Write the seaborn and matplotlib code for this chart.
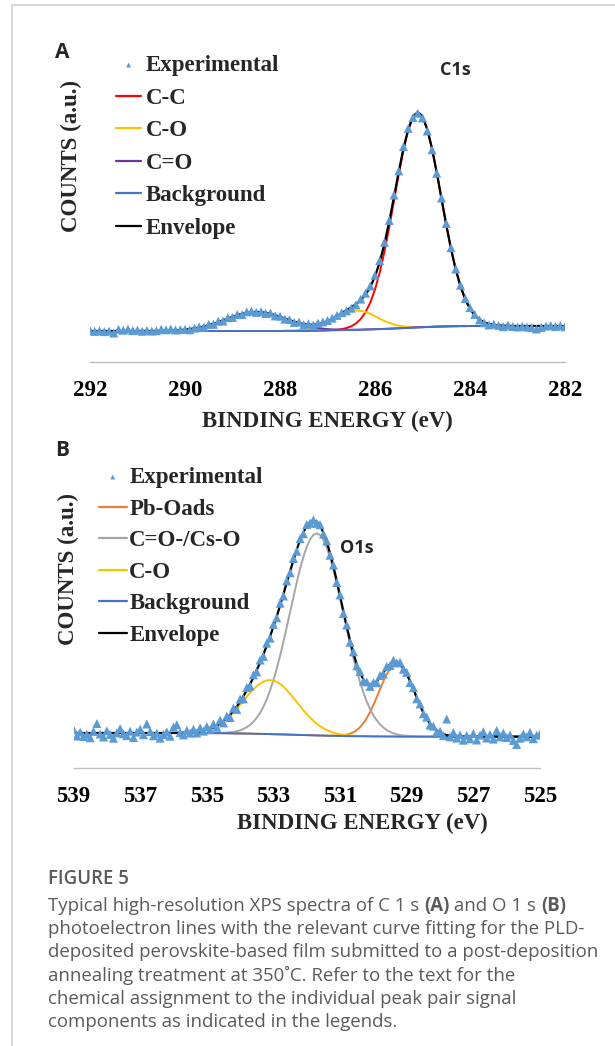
import numpy as np
import pandas as pd
import matplotlib
matplotlib.use("Agg")
import matplotlib.pyplot as plt
from matplotlib.lines import Line2D
import seaborn as sns

STEP = 0.1  # eV between channels

# ---------------- Panel A : C 1s, channels 292.0 -> 282.0 eV ----------------
a_start = 292.0
a_exp = [9.5, 8.6, 9.2, 8.4, 8.9, 7.0, 10.6, 9.8, 10.9, 9.4,
         9.9, 8.7, 9.6, 8.9, 9.3, 10.7, 10.2, 11.0, 10.0, 10.4,
         10.6, 10.2, 11.9, 13.1, 12.9, 15.6, 15.7, 18.8, 19.0, 22.3,
         22.6, 25.5, 25.4, 28.2, 28.9, 27.6, 28.3, 26.5, 26.9, 24.1,
         23.8, 20.9, 20.4, 17.6, 17.9, 15.3, 16.2, 14.8, 16.9, 18.1,
         19.5, 21.9, 24.6, 27.3, 29.1, 31.8, 35.2, 40.9, 46.8, 54.0,
         64.8, 79.5, 97.8, 119.6, 145.0, 169.1, 193.4, 211.6, 222.5, 226.8,
         222.1, 209.0, 190.2, 166.8, 142.0, 116.5, 92.3, 71.0, 54.8, 41.5,
         32.4, 25.6, 20.1, 17.2, 15.1, 15.9, 14.6, 13.3, 14.8, 13.5,
         13.0, 13.8, 12.9, 12.4, 11.0, 12.6, 13.9, 14.6, 13.4, 14.3,
         13.2]
a_bg = ([9.0] * 41 +
        [9.1, 9.1, 9.1, 9.2, 9.2, 9.3, 9.3, 9.4, 9.5, 9.6,
         9.7, 9.8, 9.9, 10.0, 10.1, 10.2, 10.3, 10.5, 10.6, 10.8,
         10.9, 11.1, 11.3, 11.5, 11.7, 11.9, 12.1, 12.4, 12.6, 12.8,
         13.0, 13.2, 13.4, 13.5, 13.6, 13.7, 13.8, 13.9, 13.9, 14.0] +
        [14.0] * 20)
# fitted components (height above background), first channel + values
a_cc_start = 287.1
a_cc = [0.0, 0.1, 0.2, 0.5, 1.0, 2.0, 3.6, 6.4, 10.7, 17.3,
        26.8, 39.8, 56.7, 77.5, 101.6, 127.8, 154.1, 178.3, 197.8, 210.6,
        215.0,
        210.6, 197.8, 178.3, 154.1, 127.8, 101.6, 77.5, 56.7, 39.8, 26.8,
        17.3, 10.7, 6.4, 3.6, 2.0, 1.0, 0.5, 0.2, 0.1, 0.0]
a_co_start = 287.8
a_co = [0.1, 0.3, 0.6, 1.0, 1.6, 2.6, 4.0, 5.8, 7.9, 10.4, 13.0, 15.5, 17.5, 18.8,
        19.3,
        18.8, 17.5, 15.5, 13.0, 10.4, 7.9, 5.8, 4.0, 2.6, 1.6, 1.0, 0.6, 0.3, 0.1]
a_cdo_start = 290.5
a_cdo = [0.2, 0.3, 0.4, 0.6, 0.9, 1.3, 1.9, 2.6, 3.5, 4.5,
         5.8, 7.3, 8.9, 10.6, 12.4, 14.1, 15.7, 17.1, 18.1, 18.8,
         19.0,
         18.8, 18.1, 17.1, 15.7, 14.1, 12.4, 10.6, 8.9, 7.3, 5.8,
         4.5, 3.5, 2.6, 1.9, 1.3, 0.9, 0.6, 0.4, 0.3, 0.2]
a_ticks = [292, 290, 288, 286, 284, 282]

# ---------------- Panel B : O 1s, channels 539.0 -> 525.0 eV ----------------
b_start = 539.0
b_exp = [15.5, 9.0, 12.8, 8.5, 10.9, 7.2, 13.6, 21.5, 11.0, 8.0,
         14.2, 10.6, 6.8, 12.1, 16.5, 11.2, 9.4, 13.8, 7.5, 12.9,
         15.8, 10.3, 21.0, 13.5, 9.2, 11.8, 6.9, 10.4, 13.1, 8.8,
         17.9, 20.3, 12.4, 10.1, 14.6, 11.9, 15.8, 12.0, 17.2, 13.9,
         18.5, 15.4, 21.0, 17.8, 24.9, 22.1, 28.9, 27.5, 36.8, 35.6,
         45.9, 46.2, 57.5, 58.8, 70.2, 73.1, 85.0, 88.6, 101.9, 106.9,
         120.6, 127.2, 141.8, 149.0, 164.1, 172.2, 186.5, 193.8, 206.3, 211.2,
         220.4, 221.8, 225.1, 221.6, 220.3, 210.9, 204.0, 189.8, 179.9, 162.5,
         150.1, 131.6, 120.0, 102.7, 93.2, 79.2, 73.4, 63.8, 63.1, 58.6,
         62.5, 62.3, 69.5, 71.1, 78.6, 79.5, 84.7, 82.1, 82.8, 75.8,
         72.6, 62.4, 57.3, 46.2, 41.0, 31.3, 27.9, 19.9, 18.8, 12.9,
         13.8, 9.4, 26.0, 8.1, 12.5, 6.9, 10.2, 4.8, 9.6, 6.2,
         11.5, 5.0, 9.9, 13.2, 7.0, 10.6, 5.9, 14.5, 8.1, 11.9,
         7.4, 10.0, 4.6, 0.5, 6.8, 11.0, 8.2, 12.6, 6.3, 9.8,
         11.2]
b_bg = ([12.0] * 41 +
        [11.9, 11.9, 11.9, 11.8, 11.8, 11.7, 11.7, 11.6, 11.6, 11.5,
         11.5, 11.4, 11.3, 11.3, 11.2, 11.1, 11.1, 11.0, 10.9, 10.8,
         10.8, 10.7, 10.6, 10.5, 10.4, 10.3, 10.2, 10.1, 10.0, 9.9,
         9.8, 9.7, 9.6, 9.5, 9.4, 9.3, 9.2, 9.1, 9.1, 9.0,
         8.9, 8.9, 8.8, 8.8, 8.8, 8.7, 8.7, 8.7, 8.7, 8.6,
         8.6, 8.6, 8.6, 8.5, 8.5, 8.5, 8.5, 8.4, 8.4, 8.4] +
        [8.4, 8.4] + [8.3] * 38)
b_csO_start = 534.7
b_csO = [0.2, 0.3, 0.4, 0.7, 1.0, 1.5, 2.2, 3.2, 4.6, 6.4,
         8.9, 12.0, 16.1, 21.1, 27.3, 34.8, 43.7, 54.0, 65.6, 78.5,
         92.5, 107.3, 122.5, 137.7, 152.5, 166.2, 178.3, 188.3, 195.8, 200.4,
         202.0,
         200.4, 195.8, 188.3, 178.3, 166.2, 152.5, 137.7, 122.5, 107.3, 92.5,
         78.5, 65.6, 54.0, 43.7, 34.8, 27.3, 21.1, 16.1, 12.0, 8.9,
         6.4, 4.6, 3.2, 2.2, 1.5, 1.0, 0.7, 0.4, 0.3, 0.2]
b_co_start = 536.1
b_co = [0.0, 0.1, 0.1, 0.2, 0.3, 0.4, 0.6, 0.9, 1.2, 1.7,
        2.4, 3.2, 4.3, 5.6, 7.3, 9.3, 11.7, 14.4, 17.5, 21.0,
        24.7, 28.7, 32.8, 36.8, 40.8, 44.4, 47.7, 50.3, 52.3, 53.6,
        54.0,
        53.6, 52.3, 50.3, 47.7, 44.4, 40.8, 36.8, 32.8, 28.7, 24.7,
        21.0, 17.5, 14.4, 11.7, 9.3, 7.3, 5.6, 4.3, 3.2, 2.4,
        1.7, 1.2, 0.9, 0.6, 0.4, 0.3, 0.2, 0.1, 0.1, 0.0]
b_pb_start = 531.3
b_pb = [0.1, 0.1, 0.3, 0.5, 0.9, 1.5, 2.5, 4.0, 6.1, 9.1,
        13.1, 18.1, 24.2, 31.3, 39.1, 47.2, 55.1, 62.1, 67.7, 71.3,
        72.5,
        71.3, 67.7, 62.1, 55.1, 47.2, 39.1, 31.3, 24.2, 18.1, 13.1,
        9.1, 6.1, 4.0, 2.5, 1.5, 0.9, 0.5, 0.3, 0.1, 0.1]
b_ticks = [539, 537, 535, 533, 531, 529, 527, 525]

EXP_COLOR = "#5B9BD5"
BG_COLOR = "#4472C4"


def channels(start, n):
    # integer keys in tenths of eV
    return int(round(start * 10)) - np.arange(n)


def build(start, exp, bg, comps):
    keys = channels(start, len(exp))
    df = pd.DataFrame({"exp": exp, "bg": bg}, index=keys)
    total = df["bg"].copy()
    for name, (c0, vals) in comps.items():
        s = pd.Series(vals, index=channels(c0, len(vals)))
        s = s.reindex(df.index).fillna(0.0)
        df[name] = s + df["bg"]
        total = total + s
    df["Envelope"] = total
    df["be"] = df.index / 10.0
    return df.reset_index(drop=True)


W, H = 615, 1046
sns.set_theme(style="white")
plt.rcParams["font.family"] = ["Liberation Serif", "DejaVu Serif"]
fig = plt.figure(figsize=(W / 100, H / 100), dpi=100)


def rect(l, t, r, b):
    return [l / W, 1 - b / H, (r - l) / W, (b - t) / H]


def fx(x, y):
    return x / W, 1 - y / H


FS = 16.5
serif_b = dict(family=["Liberation Serif", "DejaVu Serif"], fontweight="bold")
sans_b = dict(family=["Open Sans", "DejaVu Sans"], fontweight="bold")


def panel(box, df, comps, colors, xlim, ticks, ylim, leg_xy, leg_hl, leg_pad, leg_sp):
    ax = fig.add_axes(rect(*box))
    for name in comps:
        sns.lineplot(data=df, x="be", y=name, ax=ax, color=colors[name],
                     lw=1.4, label=name, estimator=None, zorder=2)
    sns.lineplot(data=df, x="be", y="bg", ax=ax, color=BG_COLOR, lw=1.4,
                 label="Background", estimator=None, zorder=3)
    sns.lineplot(data=df, x="be", y="Envelope", ax=ax, color="black", lw=1.6,
                 label="Envelope", estimator=None, zorder=4)
    sns.scatterplot(data=df, x="be", y="exp", ax=ax, marker="^", s=42,
                    color=EXP_COLOR, edgecolor="none", linewidth=0,
                    label="Experimental", zorder=5)
    ax.set_xlim(*xlim)
    ax.set_ylim(*ylim)
    ax.set_xticks(ticks)
    ax.set_xticklabels([str(t) for t in ticks], fontsize=FS, **serif_b)
    ax.set_yticks([])
    ax.set_xlabel("")
    ax.set_ylabel("")
    for s in ("left", "top", "right"):
        ax.spines[s].set_visible(False)
    ax.spines["bottom"].set_color("#BFBFBF")
    ax.spines["bottom"].set_linewidth(1.0)
    ax.tick_params(axis="x", direction="in", length=7, width=1.0,
                   color="#BFBFBF", pad=13, labelcolor="black")
    ax.set_facecolor("none")

    handles, labels = ax.get_legend_handles_labels()
    lookup = dict(zip(labels, handles))
    order = ["Experimental"] + list(comps) + ["Background", "Envelope"]
    hs = [lookup["Experimental"]]
    for name in order[1:]:
        c = colors.get(name, BG_COLOR if name == "Background" else "black")
        hs.append(Line2D([], [], color=c, lw=1.6))
    ax.legend(hs, order, loc="upper left", bbox_to_anchor=fx(*leg_xy),
              bbox_transform=fig.transFigure, frameon=False, borderpad=0,
              borderaxespad=0, handlelength=leg_hl, handletextpad=leg_pad,
              labelspacing=leg_sp, markerscale=0.55,
              prop=dict(family=["Liberation Serif"], weight="bold", size=FS))
    return ax


# panel A
df_a = build(a_start, a_exp, a_bg, {"C-C": (a_cc_start, a_cc),
                                    "C-O": (a_co_start, a_co),
                                    "C=O": (a_cdo_start, a_cdo)})
col_a = {"C-C": "#FF0000", "C-O": "#FFC000", "C=O": "#7030A0"}
panel((90, 100, 565, 362), df_a, ["C-C", "C-O", "C=O"], col_a,
      (292, 282), a_ticks, (-22, 240), (116, 55), 1.1, 0.2, 0.5)

# panel B
df_b = build(b_start, b_exp, b_bg, {"Pb-Oads": (b_pb_start, b_pb),
                                    "C=O-/Cs-O": (b_csO_start, b_csO),
                                    "C-O": (b_co_start, b_co)})
col_b = {"Pb-Oads": "#ED7D31", "C=O-/Cs-O": "#A5A5A5", "C-O": "#FFC000"}
panel((73.5, 495, 540, 768), df_b, ["Pb-Oads", "C=O-/Cs-O", "C-O"], col_b,
      (539, 525), b_ticks, (-23, 250), (99, 467), 1.2, 0.12, 0.46)

# labels
fig.text(*fx(62.5, 53), "A", ha="center", va="center", fontsize=15, **sans_b)
fig.text(*fx(62.5, 451), "B", ha="center", va="center", fontsize=15, **sans_b)
fig.text(*fx(455, 70), "C1s", ha="center", va="center", fontsize=13, **sans_b)
fig.text(*fx(357, 548), "O1s", ha="center", va="center", fontsize=13, **sans_b)
fig.text(*fx(71, 156), "COUNTS (a.u.)", rotation=90, ha="center", va="center",
         fontsize=FS, **serif_b)
fig.text(*fx(68, 569), "COUNTS (a.u.)", rotation=90, ha="center", va="center",
         fontsize=FS, **serif_b)
fig.text(*fx(327, 421), "BINDING ENERGY (eV)", ha="center", va="center",
         fontsize=FS, **serif_b)
fig.text(*fx(362, 823), "BINDING ENERGY (eV)", ha="center", va="center",
         fontsize=FS, **serif_b)

# frame lines of the page
fig.add_artist(Line2D([12 / W, 1], [1 - 5 / H, 1 - 5 / H], color="#D0D0D0", lw=1.2))
fig.add_artist(Line2D([12 / W, 12 / W], [0, 1 - 5 / H], color="#D0D0D0", lw=1.2))

# caption
cap_font = ["Open Sans", "DejaVu Sans"]
cap_col = "#5a5a5a"
CFS = 13.4
fig.text(*fx(48, 879), "FIGURE 5", ha="left", va="center", fontsize=CFS,
         family=cap_font, fontweight="semibold", color=cap_col)
caption = [
    [("Typical high-resolution XPS spectra of C 1 s ", "normal"), ("(A)", "bold"),
     (" and O 1 s ", "normal"), ("(B)", "bold")],
    [("photoelectron lines with the relevant curve fitting for the PLD-", "normal")],
    [("deposited perovskite-based film submitted to a post-deposition", "normal")],
    [("annealing treatment at 350\u02daC. Refer to the text for the", "normal")],
    [("chemical assignment to the individual peak pair signal", "normal")],
    [("components as indicated in the legends.", "normal")],
]
renderer = fig.canvas.get_renderer()
y = 906
for line in caption:
    x = 48
    for txt, weight in line:
        t = fig.text(*fx(x, y), txt, ha="left", va="center", fontsize=CFS,
                     family=cap_font, fontweight=weight, color=cap_col)
        x += t.get_window_extent(renderer=renderer).width
    y += 23.2

fig.savefig("out.png", dpi=100)
